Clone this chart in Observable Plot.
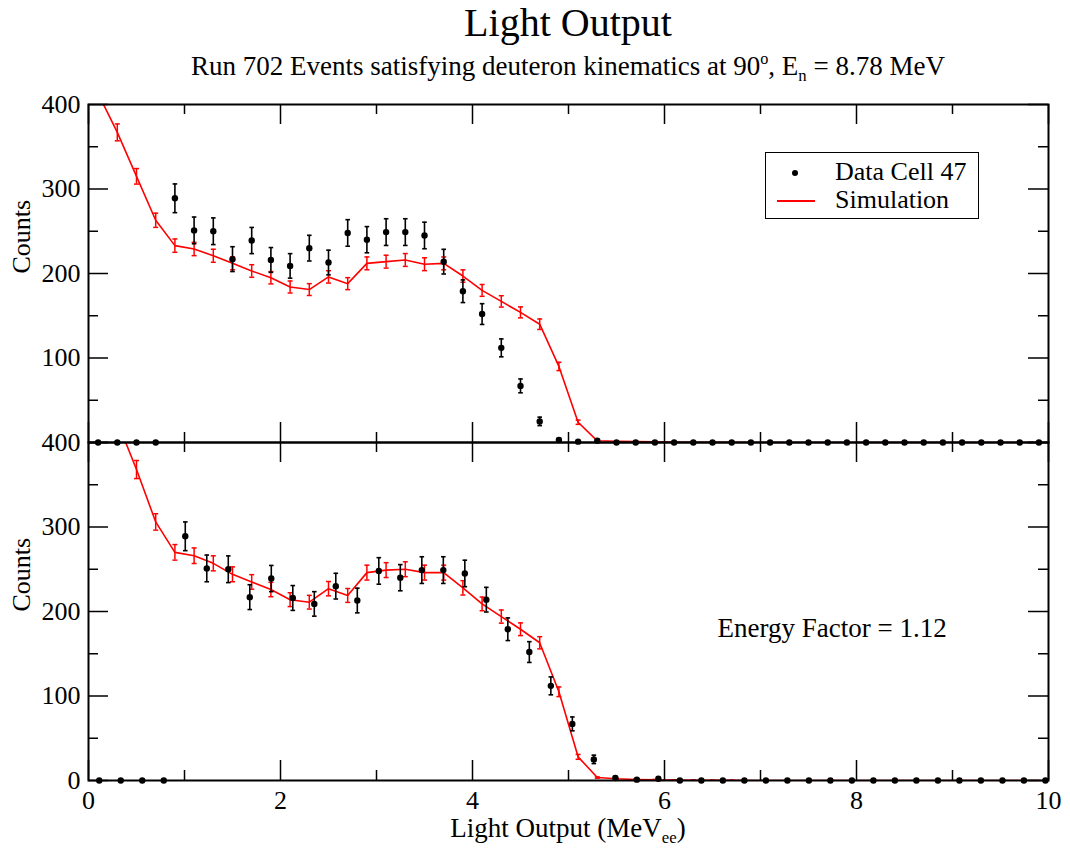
<!DOCTYPE html>
<html><head><meta charset="utf-8">
<script src="https://cdn.jsdelivr.net/npm/d3@7"></script>
<script src="https://cdn.jsdelivr.net/npm/@observablehq/plot@0.6"></script>
<style>
body{margin:0;background:#fff;}
#wrap{position:relative;width:1070px;height:852px;background:#fff;font-family:"Liberation Serif","Times New Roman",serif;color:#000;overflow:hidden;}
.t{position:absolute;left:88px;width:960px;text-align:center;line-height:1;white-space:nowrap;}
.sup{position:relative;top:-0.65em;font-size:0.6em;}
.sub{position:relative;top:0.38em;font-size:0.62em;}
#legend{position:absolute;left:765px;top:152px;width:214px;height:67px;border:1.5px solid #000;box-sizing:border-box;background:#fff;}
#legend .lt{position:absolute;left:69px;font-size:26px;line-height:1;white-space:nowrap;}
</style></head><body>
<div id="wrap">
  <div class="t" style="top:3px;font-size:40px">Light Output</div>
  <div class="t" style="top:53px;font-size:27px">Run 702 Events satisfying deuteron kinematics at 90<span class="sup">o</span>, E<span class="sub">n</span> = 8.78 MeV</div>
  <div id="chart" style="position:absolute;left:0;top:90px"></div>
  <div id="legend">
    <div style="position:absolute;left:26px;top:17px;width:6px;height:6px;border-radius:50%;background:#000"></div>
    <div class="lt" style="top:6px">Data Cell 47</div>
    <div style="position:absolute;left:11px;top:47px;width:38px;height:2px;background:#ff0000"></div>
    <div class="lt" style="top:34px">Simulation</div>
  </div>
  <div class="t" style="top:815px;font-size:27px">Light Output (MeV<span class="sub">ee</span>)</div>
</div>
<script>
// ---- data ----
const binCenters = [0.1,0.3,0.5,0.7,0.9,1.1,1.3,1.5,1.7,1.9,2.1,2.3,2.5,2.7,2.9,3.1,3.3,3.5,3.7,3.9,
  4.1,4.3,4.5,4.7,4.9,5.1,5.3,5.5,5.7,5.9,6.1,6.3,6.5,6.7,6.9,7.1,7.3,7.5,7.7,7.9,
  8.1,8.3,8.5,8.7,8.9,9.1,9.3,9.5,9.7,9.9];
const dataCounts = [0,0,0,0,289,251,250,217,239,216,209,230,213,248,240,249,249,245,214,179,
  152,112,67,25,3,1,2,0,0,0,0,0,0,0,0,0,0,0,0,0,
  0,0,0,0,0,0,0,0,0,0];
const dataErr = [0,0,0,0,17,15.8,15.8,14.7,15.5,14.7,14.5,15.2,14.6,15.7,15.5,15.8,15.8,15.7,14.6,13.4,
  12.3,10.6,8.2,5,1.7,1,1.4,0,0,0,0,0,0,0,0,0,0,0,0,0,
  0,0,0,0,0,0,0,0,0,0];
const simTop = [413,367,315,263,233,229,221,212,203,195,184,181,196,188,212,214,216,211,212,197,
  180,167,154,140,90,24,2,1.5,1,0.7,0.5,0.3,0.2,0.1,0,0,0,0,0,0,
  0,0,0,0,0,0,0,0,0,0];
const simTopErr = [10.6,10,9.2,8.4,7.9,7.9,7.7,7.6,7.4,7.3,7.1,7.0,7.3,7.1,7.6,7.6,7.6,7.6,7.6,7.3,
  7.0,6.7,6.5,6.2,4.9,2.5,0.7,0.6,0.5,0.4,0.4,0.3,0.2,0.2,0,0,0,0,0,0,
  0,0,0,0,0,0,0,0,0,0];
const simBottom = [480,425,368,306,270,266,257,244,235,226,214,211,227,219,246,249,250,246,246,228,
  209,194,179,163,105,28,3.5,2,1.2,0.8,0.5,0.3,0.2,0.1,0,0,0,0,0,0,
  0,0,0,0,0,0,0,0,0,0];
const simBottomErr = [12.3,11.6,10.7,9.7,9.2,9.2,8.9,8.8,8.6,8.5,8.2,8.1,8.5,8.2,8.8,8.8,8.8,8.8,8.8,8.5,
  8.1,7.8,7.5,7.2,5.7,2.9,0.8,0.7,0.6,0.5,0.4,0.3,0.2,0.2,0,0,0,0,0,0,
  0,0,0,0,0,0,0,0,0,0];
const energyFactor = 1.12;
const panels = ["top","bottom"];
const xMajor = [0,2,4,6,8,10];
const xMinor = [1,3,5,7,9];
const xLabels = [0,2,4,6,8,10];
const yMajor = [0,100,200,300,400];
const yMinor = [50,150,250,350];
const yLabelsTop = [100,200,300,400];
const yLabelsBottom = [0,100,200,300,400];

// ---- tables ----
const dataRows = [];
binCenters.forEach((c,i)=>{
  dataRows.push({panel:"top", x:c, y:dataCounts[i], err:dataErr[i]});
  dataRows.push({panel:"bottom", x:c*energyFactor, y:dataCounts[i], err:dataErr[i]});
});
const simRows = [];
binCenters.forEach((c,i)=>{
  simRows.push({panel:"top", x:c, y:simTop[i], err:simTopErr[i]});
  simRows.push({panel:"bottom", x:c, y:simBottom[i], err:simBottomErr[i]});
});
const dataVis = dataRows.filter(d=>d.x<=10);
const dataE = dataVis.filter(d=>d.err>0);
const simE = simRows.filter(d=>d.err>0);
const yLabelRows = [
  ...yLabelsTop.map(v=>({panel:"top", v})),
  ...yLabelsBottom.map(v=>({panel:"bottom", v}))
];

const cap = {draw(context, size){ const r = Math.sqrt(size/Math.PI); context.moveTo(-r,0); context.lineTo(r,0); }};

const W = 960, FH = 338, MAJ = 20, MIN = 10;
const RED = "#ff0000";

const chart = Plot.plot({
  width: 1070, height: 762,
  marginLeft: 88, marginRight: 22, marginTop: 14, marginBottom: 72,
  style: {fontFamily: "Liberation Serif, Times New Roman, serif", background: "transparent", color: "#000", overflow: "visible"},
  x: {domain: [0,10], axis: null},
  y: {domain: [0,400], axis: null},
  fy: {domain: panels, axis: null, padding: 0},
  marks: [
    // simulation
    Plot.line(simRows, {x:"x", y:"y", fy:"panel", stroke:RED, strokeWidth:1.6, clip:true}),
    Plot.ruleX(simE, {x:"x", y1:d=>d.y-d.err, y2:d=>d.y+d.err, fy:"panel", stroke:RED, strokeWidth:1.5, clip:true}),
    Plot.dot(simE, {x:"x", y:d=>d.y+d.err, fy:"panel", symbol:cap, r:2.5, stroke:RED, fill:"none", strokeWidth:1.5, clip:true}),
    Plot.dot(simE, {x:"x", y:d=>d.y-d.err, fy:"panel", symbol:cap, r:2.5, stroke:RED, fill:"none", strokeWidth:1.5, clip:true}),
    // data
    Plot.ruleX(dataE, {x:"x", y1:d=>d.y-d.err, y2:d=>d.y+d.err, fy:"panel", stroke:"#000", strokeWidth:1.6}),
    Plot.dot(dataE, {x:"x", y:d=>d.y+d.err, fy:"panel", symbol:cap, r:2.3, stroke:"#000", fill:"none", strokeWidth:1.6}),
    Plot.dot(dataE, {x:"x", y:d=>d.y-d.err, fy:"panel", symbol:cap, r:2.3, stroke:"#000", fill:"none", strokeWidth:1.6}),
    Plot.dot(dataVis, {x:"x", y:"y", fy:"panel", r:3.2, fill:"#000", stroke:"none"}),
    // frame and inward ticks
    Plot.frame({stroke:"#000", strokeWidth:2}),
    Plot.ruleX(xMajor, {x:d=>d, insetTop:FH-MAJ, stroke:"#000", strokeWidth:1.5}),
    Plot.ruleX(xMajor, {x:d=>d, insetBottom:FH-MAJ, stroke:"#000", strokeWidth:1.5}),
    Plot.ruleX(xMinor, {x:d=>d, insetTop:FH-MIN, stroke:"#000", strokeWidth:1.5}),
    Plot.ruleX(xMinor, {x:d=>d, insetBottom:FH-MIN, stroke:"#000", strokeWidth:1.5}),
    Plot.ruleY(yMajor, {y:d=>d, insetRight:W-MAJ, stroke:"#000", strokeWidth:1.5}),
    Plot.ruleY(yMajor, {y:d=>d, insetLeft:W-MAJ, stroke:"#000", strokeWidth:1.5}),
    Plot.ruleY(yMinor, {y:d=>d, insetRight:W-MIN, stroke:"#000", strokeWidth:1.5}),
    Plot.ruleY(yMinor, {y:d=>d, insetLeft:W-MIN, stroke:"#000", strokeWidth:1.5}),
    // tick labels
    Plot.text(yLabelRows, {fy:"panel", y:"v", text:d=>String(d.v), frameAnchor:"left", dx:-8, textAnchor:"end", fontSize:26, fill:"#000"}),
    Plot.text(xLabels, {x:d=>d, fy:()=>"bottom", text:d=>String(d), frameAnchor:"bottom", lineAnchor:"top", dy:10, fontSize:26, fill:"#000"}),
    // axis titles
    Plot.text(panels, {fy:d=>d, text:()=>"Counts", frameAnchor:"left", rotate:-90, dx:-67, fontSize:26, fill:"#000"}),
    Plot.text(["bottom"], {fy:d=>d, text:()=>"Energy Factor = 1.12", frameAnchor:"top-left", dx:629, dy:194, textAnchor:"start", lineAnchor:"bottom", fontSize:27, fill:"#000"})
  ]
});
document.getElementById("chart").appendChild(chart);
</script>
</body></html>
